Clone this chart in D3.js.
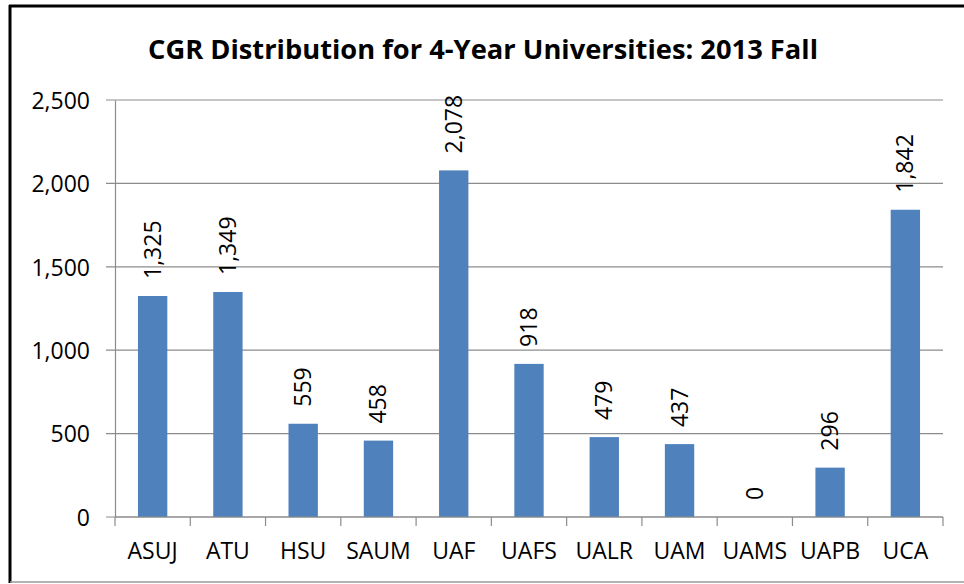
<!DOCTYPE html>
<html>
<head>
<meta charset="utf-8">
<script src="https://cdn.jsdelivr.net/npm/d3@7"></script>
<style>
  body { margin: 0; background: #fff; }
  svg text { font-family: "Open Sans", "Liberation Sans", sans-serif; fill: #000; }
</style>
</head>
<body>
<div id="chart"></div>
<script>
// data
var schools = ["ASUJ", "ATU", "HSU", "SAUM", "UAF", "UAFS", "UALR", "UAM", "UAMS", "UAPB", "UCA"];
var counts = [1325, 1349, 559, 458, 2078, 918, 479, 437, 0, 296, 1842];
var yTicks = [0, 500, 1000, 1500, 2000, 2500];
var titleText = "CGR Distribution for 4-Year Universities: 2013 Fall";

var width = 964, height = 584;
var margin = { top: 100, right: 21, bottom: 67, left: 115 };
var plotW = width - margin.left - margin.right;
var plotH = height - margin.top - margin.bottom;

var svg = d3.select("#chart").append("svg")
    .attr("width", width)
    .attr("height", height);

// frame: heavy top and left edges, light bottom edge
svg.append("line")
    .attr("x1", 9).attr("x2", width)
    .attr("y1", 6).attr("y2", 6)
    .attr("stroke", "#000").attr("stroke-width", 3);
svg.append("line")
    .attr("x1", 10).attr("x2", 10)
    .attr("y1", 5).attr("y2", 583)
    .attr("stroke", "#000").attr("stroke-width", 3);
svg.append("line")
    .attr("x1", 10).attr("x2", width)
    .attr("y1", 582).attr("y2", 582)
    .attr("stroke", "#9a9a9a").attr("stroke-width", 1.5);

svg.append("text")
    .attr("x", 483).attr("y", 59)
    .attr("text-anchor", "middle")
    .attr("font-size", 27)
    .attr("font-weight", "bold")
    .attr("textLength", 670)
    .attr("lengthAdjust", "spacingAndGlyphs")
    .text(titleText);

var g = svg.append("g")
    .attr("transform", "translate(" + margin.left + "," + margin.top + ")");

var x = d3.scaleBand().domain(schools).range([0, plotW]).paddingInner(0.61).paddingOuter(0.305);
var y = d3.scaleLinear().domain([0, 2500]).range([plotH, 0]);

// gridlines
g.selectAll(".grid")
    .data(yTicks)
    .enter().append("line")
    .attr("class", "grid")
    .attr("x1", -9).attr("x2", plotW)
    .attr("y1", d => y(d)).attr("y2", d => y(d))
    .attr("stroke", "#8c8c8c")
    .attr("stroke-width", 1.2);

// y axis
var yAxis = g.append("g")
    .call(d3.axisLeft(y).tickValues(yTicks).tickFormat(d3.format(",")).tickSize(0).tickPadding(25));
yAxis.select(".domain").attr("stroke", "#8c8c8c").attr("stroke-width", 1.2);
yAxis.selectAll("text").attr("font-size", 23).attr("dy", "0.36em");

// bars
g.selectAll(".bar")
    .data(counts)
    .enter().append("rect")
    .attr("class", "bar")
    .attr("x", (d, i) => x(schools[i]))
    .attr("y", d => y(d))
    .attr("width", x.bandwidth())
    .attr("height", d => plotH - y(d))
    .attr("fill", "#4f81bd");

// x axis with ticks between categories
var step = x.step();
var xAxis = g.append("g").attr("transform", "translate(0," + plotH + ")");
xAxis.append("line")
    .attr("x1", 0).attr("x2", plotW)
    .attr("stroke", "#8c8c8c").attr("stroke-width", 1.2);
xAxis.selectAll(".tick")
    .data(d3.range(schools.length + 1))
    .enter().append("line")
    .attr("x1", i => i * step).attr("x2", i => i * step)
    .attr("y1", 0).attr("y2", 9)
    .attr("stroke", "#8c8c8c").attr("stroke-width", 1.2);
xAxis.selectAll(".lbl")
    .data(schools)
    .enter().append("text")
    .attr("x", d => x(d) + x.bandwidth() / 2)
    .attr("y", 42)
    .attr("text-anchor", "middle")
    .attr("font-size", 23)
    .text(d => d);

// value labels, rotated
g.selectAll(".val")
    .data(counts)
    .enter().append("text")
    .attr("class", "val")
    .attr("transform", (d, i) => "translate(" + (x(schools[i]) + x.bandwidth() / 2 + 8) + "," + (y(d) - 17) + ") rotate(-90)")
    .attr("font-size", 23)
    .text(d => d3.format(",")(d));
</script>
</body>
</html>
